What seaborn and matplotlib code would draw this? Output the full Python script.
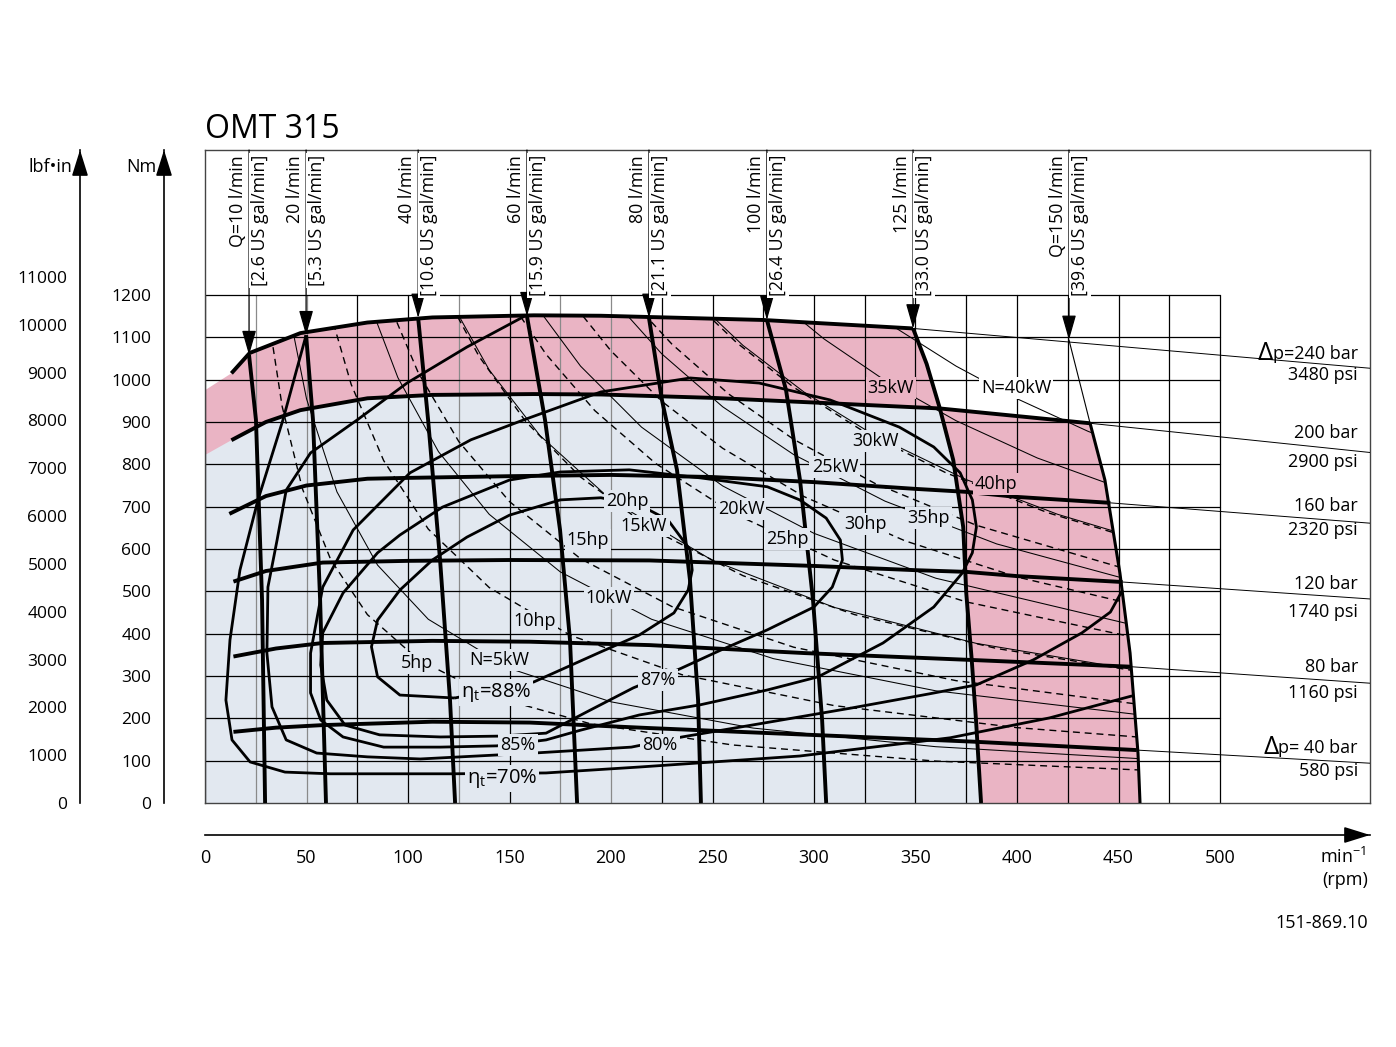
import matplotlib
matplotlib.use('Agg')
import matplotlib.pyplot as plt
from matplotlib.patches import Polygon
import seaborn as sns

# ---------------- values (rpm, Nm) ----------------
# pressure lines (thick), last point is where the thin extension starts
p240_n = [13, 22, 47, 80, 112, 162, 195, 275, 348.8]
p240_t = [1015, 1063, 1110, 1135, 1147, 1152, 1151, 1141, 1121]
p200_n = [13, 30, 47, 80, 112, 162, 195, 250, 300, 362, 400, 436]
p200_t = [857, 900, 928, 956, 964, 966, 965, 957, 946, 932, 914, 897]
p160_n = [12, 30, 50, 80, 100, 150, 200, 250, 300, 350, 375, 400, 446]
p160_t = [683, 725, 750, 766, 768, 772, 775, 770, 758, 742, 735, 723, 709]
p120_n = [14, 30, 58, 100, 150, 219, 250, 300, 350, 375, 400, 452]
p120_t = [523, 548, 568, 572, 574, 573, 568, 560, 550, 546, 536, 522]
p80_n = [14, 35, 58, 112, 160, 219, 296, 377, 456]
p80_t = [346, 365, 378, 383, 381, 373, 354, 338, 322]
p40_n = [14, 35, 58, 112, 160, 219, 313, 378, 459]
p40_t = [168, 178, 184, 192, 190, 177, 158, 145, 125]
# torque where each thin extension meets the right frame
p_edge_t = [1027, 828, 661, 482, 283, 94]
p_bar = ['p=240 bar', '200 bar', '160 bar', '120 bar', '80 bar', 'p= 40 bar']
p_psi = ['3480 psi', '2900 psi', '2320 psi', '1740 psi', '1160 psi', '580 psi']

# flow lines (thick)
q10_n = [21.7, 25.1, 28.1, 29.6]
q10_t = [1058, 905, 480, 0]
q20_n = [49.8, 53.2, 56.7, 59.6]
q20_t = [1105, 905, 480, 0]
q40_n = [105, 109.9, 115.8, 120.7, 123.2]
q40_t = [1146, 905, 574, 243, 0]
q60_n = [158.6, 167.5, 174.9, 179.8, 183.3]
q60_t = [1150, 905, 645, 385, 0]
q80_n = [218.7, 225.1, 232.5, 238.9, 242.9, 244.3]
q80_t = [1146, 952, 787, 527, 243, 0]
q100_n = [276.8, 286.2, 293.1, 299.5, 304, 306]
q100_t = [1141, 976, 763, 480, 196, 0]
q125_n = [348.8, 355.5, 362, 368.6, 373.5, 375, 377.7, 379.8, 382.3]
q125_t = [1121, 1037, 932, 810, 652, 496, 338, 196, 0]
q150_n = [425.6, 436, 443.3, 450.7, 455.7, 459.6, 460.6]
q150_t = [1094, 897, 763, 543, 354, 118, 0]
q_lpm = ['Q=10 l/min', '20 l/min', '40 l/min', '60 l/min', '80 l/min',
         '100 l/min', '125 l/min', 'Q=150 l/min']
q_gal = ['[2.6 US gal/min]', '[5.3 US gal/min]', '[10.6 US gal/min]',
         '[15.9 US gal/min]', '[21.1 US gal/min]', '[26.4 US gal/min]',
         '[33.0 US gal/min]', '[39.6 US gal/min]']

# total efficiency contours
eta88_n = [123, 96, 85, 82, 85, 96, 112, 129, 150, 175, 195, 214, 228, 239, 240, 238, 231, 214, 195, 162, 123]
eta88_t = [248, 255, 298, 369, 432, 503, 574, 628, 680, 716, 721, 704, 669, 598, 550, 503, 449, 397, 357, 286, 248]
eta87_n = [234, 254, 277, 300, 309, 314, 313, 306, 293, 277, 244, 209, 175, 150, 117, 96, 85, 68, 58, 57, 60, 69, 86, 116, 145, 168, 190, 211, 234]
eta87_t = [317, 361, 409, 463, 510, 574, 621, 673, 716, 747, 768, 787, 782, 763, 699, 633, 591, 496, 402, 326, 243, 184, 161, 156, 158, 165, 220, 272, 317]
eta85_n = [144, 116, 88, 68, 57, 52, 52, 58, 73, 101, 131, 157, 195, 239, 273, 308, 342, 359, 372, 378, 380, 378, 373, 359, 334, 302, 277, 244, 214, 185, 168, 144]
eta85_t = [135, 132, 132, 156, 196, 260, 354, 510, 645, 780, 858, 905, 971, 1004, 992, 952, 888, 841, 780, 716, 652, 591, 543, 463, 378, 298, 267, 232, 208, 172, 149, 135]
eta80_n = [158.6, 129, 99.5, 75, 52, 40, 35.5, 31, 30.5, 33, 40, 55, 80, 106, 162, 210, 235, 273, 318, 357, 380, 408, 432, 446, 452]
eta80_t = [1153, 1077, 992, 905, 827, 739, 621, 510, 354, 227, 149, 118, 109, 104, 118, 132, 156, 187, 224, 258, 279, 338, 402, 451, 503]
eta70_n = [49.8, 38.4, 26.1, 17.2, 12.3, 10.3, 13.3, 22.2, 39.4, 61.6, 122, 168, 214, 293, 367, 416, 456.7]
eta70_t = [1105, 905, 716, 550, 385, 243, 149, 97, 73, 69, 69, 71, 85, 111, 154, 201, 253]

# output power lines, kW (solid) and hp (dashed)
kw5_n = [40, 50, 65, 85, 110, 150, 200, 270, 360, 470]
kw5_t = [1194, 955, 735, 562, 434, 318, 239, 177, 133, 102]
kw10_n = [80, 95, 115, 140, 175, 220, 280, 360, 470]
kw10_t = [1194, 1005, 830, 682, 546, 434, 341, 265, 203]
kw15_n = [120, 140, 165, 200, 250, 310, 380, 470]
kw15_t = [1194, 1023, 868, 716, 573, 462, 377, 305]
kw20_n = [160, 185, 215, 255, 300, 360, 470]
kw20_t = [1194, 1032, 888, 749, 637, 531, 406]
kw25_n = [199, 225, 255, 290, 335, 390, 470]
kw25_t = [1200, 1061, 936, 823, 713, 612, 508]
kw30_n = [239, 265, 295, 330, 375, 420, 470]
kw30_t = [1199, 1081, 971, 868, 764, 682, 610]
kw35_n = [279, 305, 335, 370, 410, 470]
kw35_t = [1198, 1096, 998, 903, 815, 711]
kw40_n = [318, 340, 370, 400, 435, 470]
kw40_t = [1201, 1123, 1032, 955, 878, 813]
hp5_n = [30, 38, 48, 62, 80, 105, 140, 190, 260, 360, 470]
hp5_t = [1187, 937, 742, 574, 445, 339, 254, 187, 137, 99, 76]
hp10_n = [60, 72, 88, 110, 140, 180, 235, 310, 400, 470]
hp10_t = [1187, 989, 809, 647, 509, 396, 303, 230, 178, 152]
hp15_n = [90, 105, 125, 150, 185, 230, 290, 370, 470]
hp15_t = [1187, 1017, 854, 712, 577, 464, 368, 289, 227]
hp20_n = [119, 135, 158, 185, 220, 265, 320, 390, 470]
hp20_t = [1197, 1055, 901, 770, 647, 537, 445, 365, 303]
hp25_n = [149, 168, 192, 222, 260, 310, 375, 470]
hp25_t = [1195, 1060, 927, 802, 685, 574, 475, 379]
hp30_n = [179, 200, 225, 255, 295, 345, 400, 470]
hp30_t = [1193, 1068, 949, 838, 724, 619, 534, 455]
hp35_n = [208, 230, 258, 290, 330, 380, 470]
hp35_t = [1198, 1084, 966, 859, 755, 656, 530]
hp40_n = [238, 262, 290, 325, 365, 415, 470]
hp40_t = [1197, 1087, 982, 876, 780, 686, 606]

nm_ticks = list(range(0, 1201, 100))
lbf_ticks = list(range(0, 11001, 1000))
rpm_ticks = list(range(0, 501, 50))
NM_TO_LBFIN = 8.8507

# ---------------- style ----------------
sns.set_theme(style='white')
plt.rcParams['font.family'] = ['Open Sans', 'DejaVu Sans']
plt.rcParams['mathtext.fontset'] = 'custom'
plt.rcParams['mathtext.rm'] = 'Open Sans'
plt.rcParams['mathtext.it'] = 'Open Sans'
for k in ['text.color', 'axes.labelcolor', 'xtick.color', 'ytick.color']:
    plt.rcParams[k] = 'black'

BLUE = '#e2e8f0'
PINK = '#eab4c4'
W, H = 1396, 1047


def fx(px):
    return px / W


def fy(py):
    return 1 - py / H


X0, X1, Y0, Y1 = 205, 1370, 803, 150   # frame corners in pixels
x_max = (X1 - X0) / 2.03
y_max = (Y0 - Y1) / 0.42333

fig = plt.figure(figsize=(W / 100, H / 100), dpi=100)
fig.patch.set_facecolor('white')

ax = fig.add_axes([fx(X0), fy(Y0), fx(X1) - fx(X0), fy(Y1) - fy(Y0)])
ax.set_xlim(0, x_max)
ax.set_ylim(0, y_max)
ax.set_xticks([])
ax.set_yticks([])
ax.set_facecolor('white')
for s in ax.spines.values():
    s.set_color('#444')
    s.set_linewidth(1.0)

# ---------------- regions ----------------
pink_pts = ([(0, 822), (0, 975)] + list(zip(p240_n, p240_t)) +
            list(zip(q125_n[1:3], q125_t[1:3])) +
            list(zip(p200_n[10:], p200_t[10:])) +
            list(zip(q150_n[2:], q150_t[2:])) + [(0, 0)])
blue_pts = ([(0, 0), (0, 822)] + list(zip(p200_n[:10], p200_t[:10])) +
            list(zip(q125_n[3:], q125_t[3:])))
ax.add_patch(Polygon(pink_pts, closed=True, fc=PINK, ec='none', zorder=1))
ax.add_patch(Polygon(blue_pts, closed=True, fc=BLUE, ec='none', zorder=1))

# grid
grey_cols = [25, 50, 125, 175, 200]
for v in range(0, 501, 25):
    ax.plot([v, v], [0, 1200], color='#8a8a8a' if v in grey_cols else 'black',
            lw=0.9, zorder=2)
for h in nm_ticks[1:]:
    ax.plot([0, 500], [h, h], color='black', lw=0.9, zorder=2)

# ---------------- power lines (clipped to the operating envelope) ----------------
clip_pts = ([(0, 0), (0, 1015)] + list(zip(p240_n, p240_t)) +
            list(zip(q150_n, q150_t)))
clip = Polygon(clip_pts, closed=True, transform=ax.transData)


def power(n, t, dashed):
    sns.lineplot(x=n, y=t, sort=False, estimator=None, color='black',
                 lw=1.0 if dashed else 0.75,
                 linestyle=(0, (5, 3.5)) if dashed else '-',
                 legend=False, ax=ax, zorder=3)
    ax.lines[-1].set_clip_path(clip)


for n, t in [(kw5_n, kw5_t), (kw10_n, kw10_t), (kw15_n, kw15_t), (kw20_n, kw20_t),
             (kw25_n, kw25_t), (kw30_n, kw30_t), (kw35_n, kw35_t), (kw40_n, kw40_t)]:
    power(n, t, False)
for n, t in [(hp5_n, hp5_t), (hp10_n, hp10_t), (hp15_n, hp15_t), (hp20_n, hp20_t),
             (hp25_n, hp25_t), (hp30_n, hp30_t), (hp35_n, hp35_t), (hp40_n, hp40_t)]:
    power(n, t, True)


def thick(n, t, lw):
    sns.lineplot(x=n, y=t, sort=False, estimator=None, color='black', lw=lw,
                 legend=False, ax=ax, zorder=4, solid_capstyle='butt')


# efficiency contours
for n, t in [(eta88_n, eta88_t), (eta87_n, eta87_t), (eta85_n, eta85_t),
             (eta80_n, eta80_t), (eta70_n, eta70_t)]:
    thick(n, t, 2.0)

# pressure lines + thin extensions to the frame
p_lines = [(p240_n, p240_t), (p200_n, p200_t), (p160_n, p160_t),
           (p120_n, p120_t), (p80_n, p80_t), (p40_n, p40_t)]
for (n, t), te in zip(p_lines, p_edge_t):
    thick(n, t, 2.8)
    ax.plot([n[-1], x_max], [t[-1], te], color='black', lw=0.7, zorder=3)

# flow lines
for n, t in [(q10_n, q10_t), (q20_n, q20_t), (q40_n, q40_t), (q60_n, q60_t),
             (q80_n, q80_t), (q100_n, q100_t), (q125_n, q125_t)]:
    thick(n, t, 2.8)
thick(q150_n[1:], q150_t[1:], 2.2)
ax.plot(q150_n[:2], q150_t[:2], color='black', lw=0.8, zorder=4)

# flow arrows and labels
q_first = [(q10_n, q10_t), (q20_n, q20_t), (q40_n, q40_t), (q60_n, q60_t),
           (q80_n, q80_t), (q100_n, q100_t), (q125_n, q125_t), (q150_n, q150_t)]
for (n, t), lpm, gal in zip(q_first, q_lpm, q_gal):
    ax.annotate('', xy=(n[0], t[0]), xytext=(n[0], y_max),
                arrowprops=dict(arrowstyle='-|>,head_length=0.7,head_width=0.2',
                                color='black', lw=0.9, shrinkA=0, shrinkB=0,
                                mutation_scale=22), zorder=6)
    ax.annotate(lpm, xy=(n[0], y_max), xytext=(-1.5, -3.5), textcoords='offset points',
                rotation=90, ha='right', va='top', fontsize=12.8, zorder=7)
    ax.annotate(gal, xy=(n[0], y_max), xytext=(1.5, -3.5), textcoords='offset points',
                rotation=90, ha='left', va='top', fontsize=12.8, zorder=7,
                bbox=dict(boxstyle='square,pad=0.12', fc='white', ec='none'))

# ---------------- in-plot labels ----------------
labels = [
    ('35kW', 337.9, 980, PINK), ('N=40kW', 399.5, 980, 'white'),
    ('30kW', 330.5, 855, BLUE), ('25kW', 310.3, 794, BLUE),
    ('40hp', 389.7, 754, PINK), ('20hp', 207.9, 713, BLUE),
    ('20kW', 264.0, 694, BLUE), ('15kW', 216.3, 654, BLUE),
    ('30hp', 325.6, 659, BLUE), ('35hp', 356.2, 673, BLUE),
    ('25hp', 286.7, 624, BLUE), ('15hp', 188.7, 621, BLUE),
    ('10kW', 199.0, 484, BLUE), ('10hp', 162.6, 430, BLUE),
    ('5hp', 104.4, 331, BLUE), ('N=5kW', 144.8, 338, BLUE),
    ('87%', 223.2, 291, BLUE), ('85%', 154.2, 137, BLUE),
    ('80%', 224.1, 137, BLUE),
]
for txt, x, y, bg in labels:
    ax.text(x, y, txt, ha='center', va='center', fontsize=13, zorder=8,
            bbox=dict(boxstyle='square,pad=0.12', fc=bg, ec='none'))
for txt, x, y in [('\u03b7$_{\\mathrm{t}}$=88%', 143.3, 260),
                  ('\u03b7$_{\\mathrm{t}}$=70%', 146.3, 59)]:
    ax.text(x, y, txt, ha='center', va='center', fontsize=14.5, zorder=8,
            bbox=dict(boxstyle='square,pad=0.1', fc=BLUE, ec='none'))

# pressure labels on the right
bar_y = [354, 433, 506, 584, 667, 748]
psi_y = [375, 462, 530, 612, 693, 771]
for b, p, yb, yp in zip(p_bar, p_psi, bar_y, psi_y):
    tb = fig.text(fx(1358), fy(yb), b, ha='right', va='center', fontsize=13)
    fig.text(fx(1358), fy(yp), p, ha='right', va='center', fontsize=13)
    if b.startswith('p'):
        ax.annotate('\u0394', xy=(0, 0.5), xycoords=tb, ha='right', va='center',
                    fontsize=19, annotation_clip=False)

# ---------------- outer axes ----------------
fig.text(fx(205), fy(130), 'OMT 315', ha='left', va='center', fontsize=23)


def side_axis(px, top, ticks, label, lab_px):
    a = fig.add_axes([fx(px), fy(Y0), 0.0001, fy(Y1) - fy(Y0)])
    a.set_ylim(0, top)
    a.set_xticks([])
    a.set_yticks(ticks)
    a.set_facecolor('none')
    for k in ['top', 'right', 'bottom']:
        a.spines[k].set_visible(False)
    a.spines['left'].set_color('black')
    a.spines['left'].set_linewidth(1.2)
    a.tick_params(axis='y', direction='out', length=7, width=1, labelsize=12.5,
                  pad=2, colors='black')
    a.annotate('', xy=(0, 1.0), xytext=(0, 0.97), xycoords='axes fraction',
               arrowprops=dict(arrowstyle='-|>,head_length=0.8,head_width=0.25',
                               color='black', lw=1.2, shrinkA=0, shrinkB=0,
                               mutation_scale=20))
    fig.text(fx(lab_px), fy(167), label, ha='right', va='center', fontsize=13)


side_axis(80, y_max * NM_TO_LBFIN, lbf_ticks, 'lbf\u2022in', 72)
side_axis(164, y_max, nm_ticks, 'Nm', 156)

ax_b = fig.add_axes([fx(X0), fy(835), fx(X1) - fx(X0), 0.0001])
ax_b.set_xlim(0, x_max)
ax_b.set_yticks([])
ax_b.set_xticks(rpm_ticks)
ax_b.set_xticks(list(range(25, 501, 50)), minor=True)
ax_b.set_facecolor('none')
for k in ['top', 'right', 'left']:
    ax_b.spines[k].set_visible(False)
ax_b.spines['bottom'].set_color('black')
ax_b.spines['bottom'].set_linewidth(1.2)
ax_b.tick_params(axis='x', which='both', direction='in', length=7, width=1,
                 labelsize=13, pad=10, colors='black')
ax_b.annotate('', xy=(1.0, 0), xytext=(0.98, 0), xycoords='axes fraction',
              arrowprops=dict(arrowstyle='-|>,head_length=0.8,head_width=0.25',
                              color='black', lw=1.2, shrinkA=0, shrinkB=0,
                              mutation_scale=20))

fig.text(fx(1366), fy(857), 'min$^{-1}$', ha='right', va='center', fontsize=13)
fig.text(fx(1368), fy(880), '(rpm)', ha='right', va='center', fontsize=13)
fig.text(fx(1368), fy(923), '151-869.10', ha='right', va='center', fontsize=13)

fig.savefig('out.png', dpi=100)
